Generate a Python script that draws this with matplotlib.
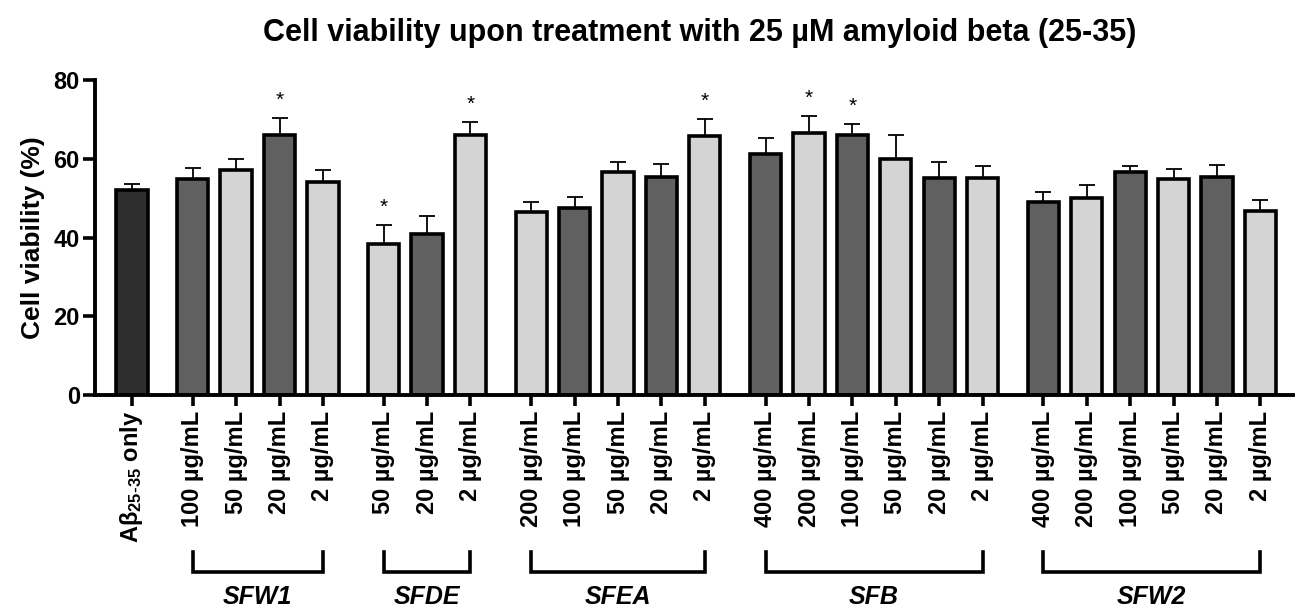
import matplotlib
matplotlib.use("Agg")
import matplotlib.pyplot as plt
import numpy as np

plt.rcParams['font.family'] = ['Liberation Sans', 'DejaVu Sans']
plt.rcParams['mathtext.default'] = 'regular'

# control
control_label = r"Aβ$_{\mathregular{25\text{-}35}}$ only"
control_mean = 52.0
control_err = 1.6

# treatments
groups = ["SFW1", "SFDE", "SFEA", "SFB", "SFW2"]
concs = [
    [100, 50, 20, 2],
    [50, 20, 2],
    [200, 100, 50, 20, 2],
    [400, 200, 100, 50, 20, 2],
    [400, 200, 100, 50, 20, 2],
]
means = [
    [55.0, 57.2, 66.0, 54.2],
    [38.4, 41.0, 66.2],
    [46.6, 47.6, 56.8, 55.3, 65.8],
    [61.2, 66.5, 66.0, 60.0, 55.2, 55.2],
    [49.0, 50.0, 56.6, 55.0, 55.3, 46.8],
]
errs = [
    [2.8, 2.9, 4.5, 3.0],
    [4.8, 4.4, 3.2],
    [2.6, 2.7, 2.5, 3.4, 4.3],
    [4.2, 4.5, 2.9, 6.0, 4.0, 3.0],
    [2.7, 3.4, 1.6, 2.4, 3.2, 2.8],
]
signif = [
    [False, False, True, False],
    [True, False, True],
    [False, False, False, False, True],
    [False, True, True, False, False, False],
    [False, False, False, False, False, False],
]

control_color = '#2e2e2e'
dark = '#606060'
light = '#d4d4d4'
conc_color = {400: dark, 200: light, 100: dark, 50: light, 20: dark, 2: light}

# x positions: unit step inside a group, wider step between groups
gap = 1.4
xs = [0.0]
labels = [control_label]
heights = [control_mean]
errors = [control_err]
colors = [control_color]
stars = [False]
group_spans = []
pos = 0.0
for g, c, m, e, s in zip(groups, concs, means, errs, signif):
    pos += gap
    start = pos
    for i in range(len(c)):
        if i > 0:
            pos += 1
        xs.append(pos)
        labels.append(f"{c[i]} µg/mL")
        heights.append(m[i])
        errors.append(e[i])
        colors.append(conc_color[c[i]])
        stars.append(s[i])
    group_spans.append((start, pos))
xs = np.array(xs)

fig = plt.figure(figsize=(12.95, 6.08), dpi=100)
ax = fig.add_axes([0.0734, 0.350, 0.925, 0.518])

ax.errorbar(xs, heights, yerr=[np.zeros(len(errors)), errors], fmt='none',
            ecolor='black', elinewidth=1.3, capsize=6, capthick=1.3, zorder=1)
ax.bar(xs, heights, width=0.72, color=colors, edgecolor='black', linewidth=2.6, zorder=2)

for x, h, e, s in zip(xs, heights, errors, stars):
    if s:
        ax.text(x, h + e + 4.5, "*", ha='center', va='center', fontsize=15)

ax.set_xlim(xs[0] - 0.85, xs[-1] + 0.75)
ax.set_ylim(0, 80)
ax.set_yticks([0, 20, 40, 60, 80])
ax.set_xticks(xs)
ax.set_xticklabels(labels, rotation=90, fontsize=17, fontweight='bold')
ax.tick_params(axis='y', labelsize=17, width=2.6, length=9, pad=2)
ax.tick_params(axis='x', width=2.6, length=8, pad=3)
for lbl in ax.get_yticklabels():
    lbl.set_fontweight('bold')
ax.set_ylabel("Cell viability (%)", fontsize=19, fontweight='bold', labelpad=6)

for side in ['top', 'right']:
    ax.spines[side].set_visible(False)
for side in ['left', 'bottom']:
    ax.spines[side].set_linewidth(2.8)

# group brackets below tick labels
tr = ax.get_xaxis_transform()
for g, (a, b) in zip(groups, group_spans):
    ax.plot([a, a, b, b], [-0.498, -0.562, -0.562, -0.498], color='black',
            lw=2.6, transform=tr, clip_on=False, solid_joinstyle='miter')
    ax.text((a + b) / 2, -0.64, g, transform=tr, ha='center', va='center',
            fontsize=18, fontweight='bold', fontstyle='italic')

fig.text(0.54, 0.945, "Cell viability upon treatment with 25 µM amyloid beta (25-35)",
         ha='center', va='center', fontsize=22, fontweight='bold')

fig.savefig("out.png", dpi=100)
